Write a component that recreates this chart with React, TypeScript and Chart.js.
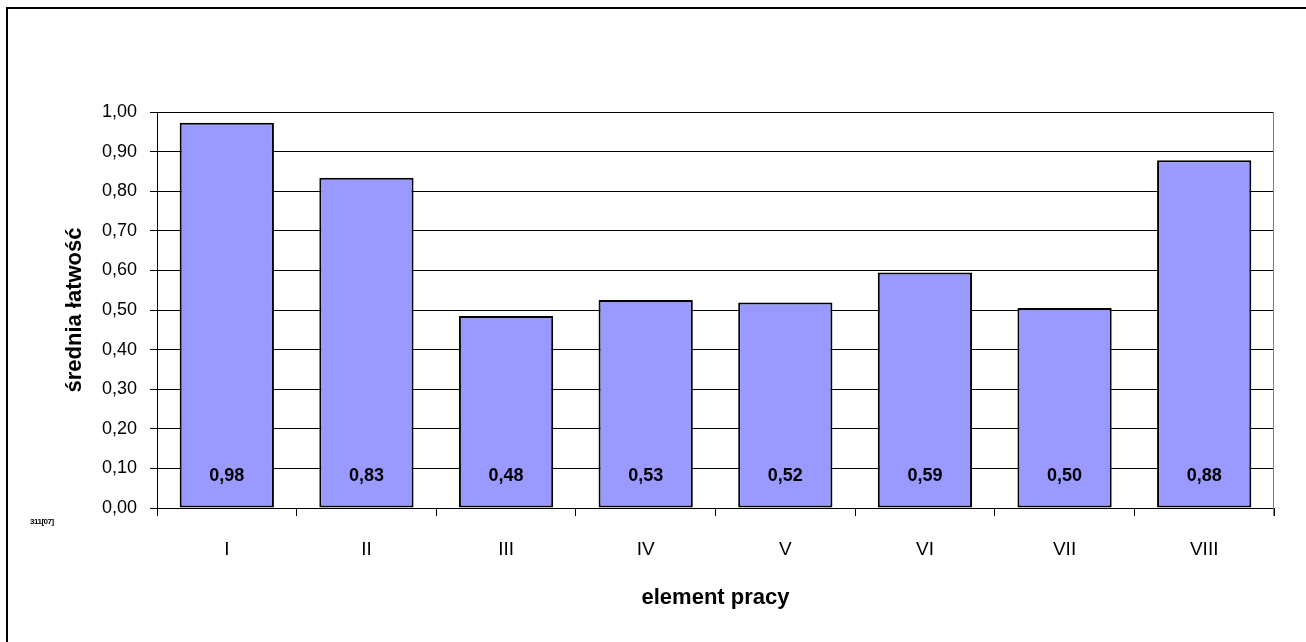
import React, { useEffect, useRef } from "react";
import { Chart, registerables } from "chart.js";

Chart.register(...registerables);

const categories = ["I", "II", "III", "IV", "V", "VI", "VII", "VIII"];
const values = [0.973, 0.834, 0.485, 0.525, 0.519, 0.595, 0.505, 0.878];
const valueLabels = ["0,98", "0,83", "0,48", "0,53", "0,52", "0,59", "0,50", "0,88"];
const yTitle = "średnia łatwość";
const xTitle = "element pracy";
const codeNote = "311[07]";

const FONT = "'Liberation Sans', Arial, sans-serif";

const labelPlugin = {
  id: "barLabels",
  afterDatasetsDraw(chart: any) {
    const ctx = chart.ctx;
    const meta = chart.getDatasetMeta(0);
    const y0 = chart.scales.y.getPixelForValue(0);
    ctx.save();
    ctx.font = `bold 18px ${FONT}`;
    ctx.fillStyle = "#000";
    ctx.textAlign = "center";
    ctx.textBaseline = "middle";
    meta.data.forEach((bar: any, i: number) => {
      ctx.fillText(valueLabels[i], bar.x, y0 - 32);
    });
    ctx.restore();
  },
  afterDraw(chart: any) {
    const { ctx, chartArea } = chart;
    ctx.save();
    ctx.strokeStyle = "#808080";
    ctx.lineWidth = 1;
    ctx.beginPath();
    ctx.moveTo(Math.round(chartArea.right) - 0.5, chartArea.top);
    ctx.lineTo(Math.round(chartArea.right) - 0.5, chartArea.bottom + 8);
    ctx.stroke();
    ctx.restore();
  },
};

export default function App() {
  const ref = useRef<HTMLCanvasElement | null>(null);
  useEffect(() => {
    if (!ref.current) return;
    const chart = new Chart(ref.current, {
      type: "bar",
      data: {
        labels: categories,
        datasets: [
          {
            data: values,
            backgroundColor: "#9999FF",
            borderColor: "#000000",
            borderWidth: 2,
            borderSkipped: false,
            barPercentage: 0.675,
            categoryPercentage: 1,
          },
        ],
      },
      options: {
        responsive: false,
        animation: false,
        layout: { padding: { top: 112, right: 32, left: 0, bottom: 0 } },
        plugins: {
          legend: { display: false },
          tooltip: { enabled: false },
          title: { display: false },
        },
        scales: {
          x: {
            afterFit: (s: any) => {
              s.height = 134;
            },
            grid: {
              offset: true,
              drawOnChartArea: false,
              drawTicks: true,
              tickLength: 8,
              color: "#000",
              lineWidth: 1,
            },
            border: { display: true, color: "#000", width: 1 },
            ticks: {
              color: "#000",
              padding: 22,
              font: { family: FONT, size: 19 },
              maxRotation: 0,
            },
            title: {
              display: true,
              text: xTitle,
              color: "#000",
              font: { family: FONT, size: 22, weight: "bold" },
              padding: { top: 0, bottom: 31 },
            },
          },
          y: {
            min: 0,
            max: 1,
            afterFit: (s: any) => {
              s.width = 157;
            },
            grid: {
              color: "#000",
              lineWidth: 1,
              drawTicks: true,
              tickLength: 7,
            },
            border: { display: true, color: "#000", width: 1 },
            ticks: {
              stepSize: 0.1,
              color: "#000",
              padding: 13,
              font: { family: FONT, size: 18 },
              callback: (v: any) => (Math.round(Number(v) * 100) / 100).toFixed(2).replace(".", ","),
            },
            title: {
              display: true,
              text: yTitle,
              color: "#000",
              font: { family: FONT, size: 22, weight: "bold" },
              padding: { top: 62, bottom: 0 },
            },
          },
        },
      },
      plugins: [labelPlugin],
    });
    return () => chart.destroy();
  }, []);

  return (
    <div style={{ position: "absolute", left: 0, top: 0, width: 1306, height: 642, overflow: "hidden", background: "#fff" }}>
      <div
        style={{
          position: "absolute",
          left: 6,
          top: 7,
          width: 1400,
          height: 700,
          borderLeft: "2px solid #000",
          borderTop: "2px solid #000",
        }}
      />
      <canvas ref={ref} width={1306} height={642} style={{ position: "absolute", left: 0, top: 0 }} />
      <span
        style={{
          position: "absolute",
          left: 30,
          top: 517,
          fontFamily: FONT,
          fontSize: 8,
          fontWeight: "bold",
          letterSpacing: "-0.5px",
          color: "#000",
        }}
      >
        {codeNote}
      </span>
    </div>
  );
}
